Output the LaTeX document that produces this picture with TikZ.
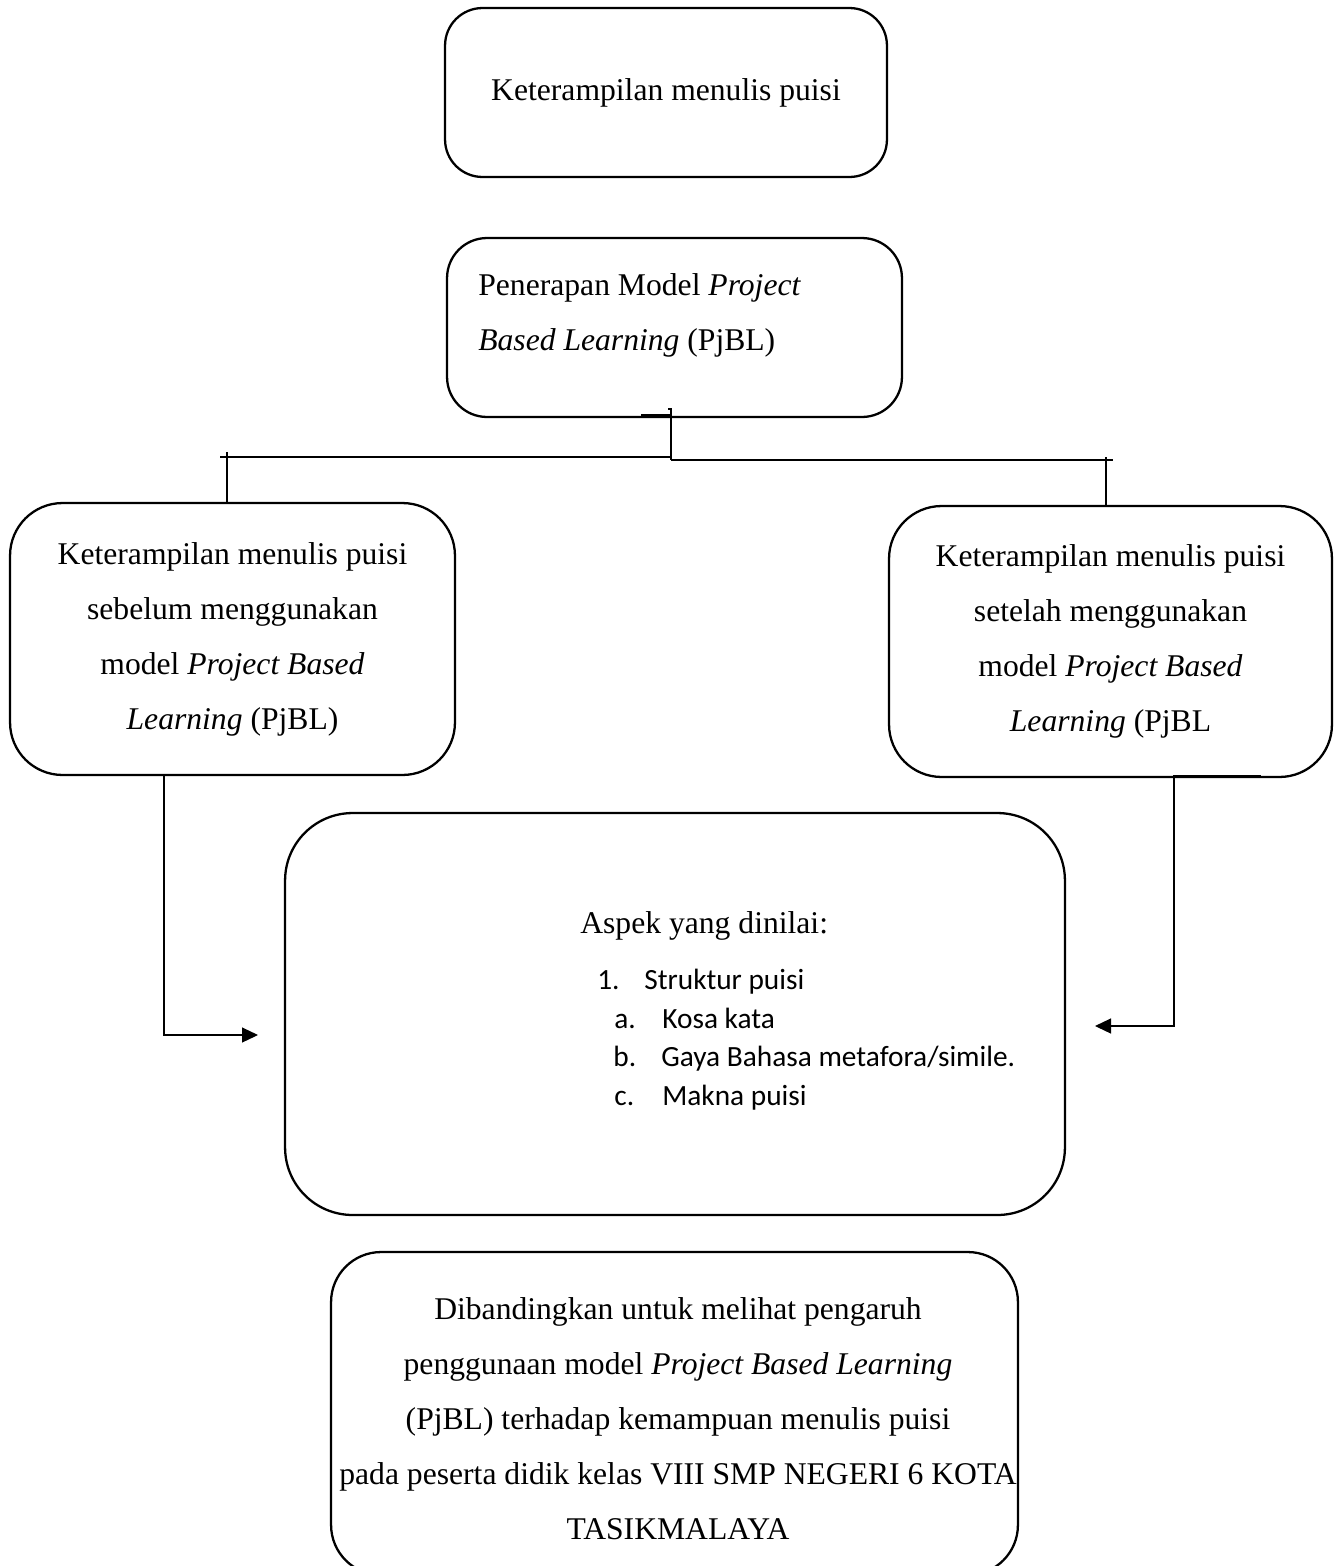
\documentclass[tikz,border=0pt]{standalone}
\usepackage{fontspec}
\setmainfont{Liberation Serif}
\newfontfamily\listfont{Carlito}
\usetikzlibrary{arrows.meta}

\begin{document}
\begin{tikzpicture}[
  x=0.02cm, y=-0.02cm,            % one unit = one pixel of the layout
  >={Triangle[length=3.2mm, width=3mm]},
  font=\fontsize{18}{31.3}\selectfont,
  box/.style={
    rectangle, draw, line width=1.3pt,
    align=center, inner sep=0pt
  },
  link/.style={draw, line width=0.7pt},
  txt/.style={inner sep=0pt},
  item/.style={anchor=base west, inner sep=0pt,
    font=\listfont\fontsize{16.7}{20}\selectfont},
]
\useasboundingbox (0,0) rectangle (1341,1566);

% --- Top ---
\node[box, rounded corners=0.75cm, minimum width=8.84cm, minimum height=3.38cm]
  (skill) at (666,92.5) {Keterampilan menulis puisi};

% --- PjBL model ---
\node[box, rounded corners=0.8cm, minimum width=9.1cm, minimum height=3.58cm]
  (pjbl) at (674.5,327.5) {};
\node[txt, anchor=north west, align=left] (pjbltext) at (478,273)
  {Penerapan Model \textit{Project}\\ \textit{Based Learning} (PjBL)};

% --- Before / after ---
\node[box, rounded corners=1.05cm, minimum width=8.9cm, minimum height=5.44cm]
  (sebelum) at (232.5,639)
  {Keterampilan menulis puisi\\ sebelum menggunakan\\ model \textit{Project Based}\\ \textit{Learning} (PjBL)};
\node[box, rounded corners=1.05cm, minimum width=8.86cm, minimum height=5.42cm]
  (setelah) at (1110.5,641.5)
  {Keterampilan menulis puisi\\ setelah menggunakan\\ model \textit{Project Based}\\ \textit{Learning} (PjBL};

% --- Aspects ---
\node[box, rounded corners=1.35cm, minimum width=15.6cm, minimum height=8.04cm]
  (aspek) at (675,1014) {};
\node[txt, anchor=base west] (aspekhead) at (580,933) {Aspek yang dinilai:};
\node[item] (item1) at (597,989) {\makebox[0.94cm][l]{1.}Struktur puisi};
\node[item] (itemA) at (614,1028) {\makebox[0.96cm][l]{a.}Kosa kata};
\node[item] (itemB) at (613,1066) {\makebox[0.96cm][l]{b.}Gaya Bahasa metafora/simile.};
\node[item] (itemC) at (614,1105) {\makebox[0.96cm][l]{c.}Makna puisi};

% --- Comparison ---
\node[box, rounded corners=1.0cm, minimum width=13.74cm, minimum height=6.46cm]
  (banding) at (674.5,1413.5) {};
\node[txt, align=center] (bandingtext) at (678,1419)
  {Dibandingkan untuk melihat pengaruh\\
   penggunaan model \textit{Project Based Learning}\\
   (PjBL) terhadap kemampuan menulis puisi\\
   pada peserta didik kelas VIII SMP NEGERI 6 KOTA\\
   TASIKMALAYA};

% --- Branching lines ---
\coordinate (trunk) at (671,460);
\coordinate (hookT) at (668,409);
\coordinate (hookL) at (641,415);
\coordinate (armL) at (220,457);
\coordinate (armR) at (1113,460);
\coordinate (tickL) at (227,452);
\coordinate (tickR) at (1106,457);

\draw[link] (hookT) -| (trunk);
\draw[link] (hookL) -- (hookL -| trunk);
\draw[link] (trunk |- armL) -- (armL);
\draw[link] (trunk) -- (armR);
\draw[link] (tickL) -- (tickL |- sebelum.north);
\draw[link] (tickR) -- (tickR |- setelah.north);

% --- Arrows into aspects ---
\coordinate (outL) at (62,775);
\coordinate (bendL) at (164,1035);
\coordinate (inL) at (258,1035);
\coordinate (outR) at (1261,776);
\coordinate (bendR) at (1174,1026);
\coordinate (inR) at (1095,1026);

\draw[link, ->] (outL) -| (bendL) -- (inL);
\draw[link, ->] (outR) -| (bendR) -- (inR);

\end{tikzpicture}
\end{document}
